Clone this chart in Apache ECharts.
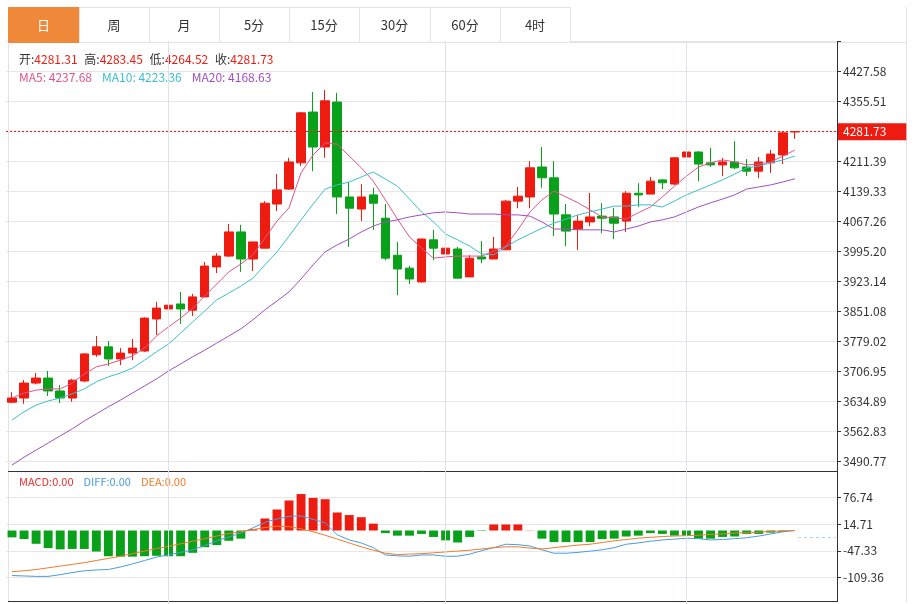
<!DOCTYPE html>
<html><head><meta charset="utf-8">
<script src="https://cdn.jsdelivr.net/npm/echarts@6/dist/echarts.min.js"></script>
<style>html,body{margin:0;padding:0;background:#fff}#c{width:913px;height:604px}</style>
</head><body><div id="c"></div>
<script>
const tabs=['日','周','月','5分','15分','30分','60分','4时'];
const opens=[3632,3642,3678,3690,3659,3642,3683,3746,3765,3736,3750,3755,3832,3856,3868,3853,3885,3957,3983,4041,3976,4002,4108,4144,4207,4329,4245,4353,4125,4096,4130,4074,3985,3954,3921,4022,3988,4000,3933,3981,3976,3998,4115,4125,4197,4171,4082,4048,4065,4079,4077,4067,4134,4132,4166,4156,4221,4233,4207,4202,4209,4197,4187,4207,4226,4281.31];
const closes=[3642,3678,3690,3659,3642,3685,3748,3765,3736,3750,3762,3834,3858,3865,3856,3885,3959,3983,4041,3976,4017,4110,4142,4209,4327,4245,4356,4125,4098,4125,4110,3978,3952,3928,4024,4002,4002,3930,3978,3976,4000,4115,4127,4195,4171,4084,4043,4067,4077,4074,4062,4134,4130,4163,4159,4219,4233,4204,4202,4209,4195,4187,4209,4228,4279,4281.73];
const highs=[3656,3685,3702,3707,3673,3688,3750,3791,3779,3762,3784,3836,3873,3897,3897,3892,3969,3990,4060,4058,4017,4115,4180,4219,4329,4377,4382,4375,4161,4156,4147,4108,4017,3959,4024,4046,4029,4005,3985,4019,4029,4118,4149,4211,4245,4211,4108,4082,4135,4110,4098,4139,4158,4173,4168,4221,4267,4235,4243,4219,4259,4216,4221,4238,4283,4283.45];
const lows=[3630,3628,3675,3647,3630,3633,3680,3741,3719,3721,3733,3753,3793,3853,3820,3839,3885,3942,3981,3945,3947,4002,4091,4142,4199,4187,4219,4084,4005,4067,4046,3973,3889,3916,3919,3973,3964,3929,3933,3966,3976,3998,4098,4098,4147,4031,4007,3998,4055,4038,4024,4041,4101,4132,4144,4154,4207,4163,4197,4175,4192,4175,4170,4183,4204,4264.52];
const ma5=[3642,3654,3661,3664,3664,3678,3700,3717,3724,3733,3743,3762,3791,3813,3834,3858,3887,3916,3945,3964,3986,4026,4067,4099,4183,4226,4255,4252,4223,4195,4163,4118,4072,4029,4002,3978,3981,3983,3983,3983,3995,4007,4046,4089,4118,4139,4125,4111,4094,4077,4075,4072,4087,4101,4125,4151,4175,4197,4207,4214,4209,4202,4204,4209,4223,4237.68];
const ma10=[3589,3609,3625,3635,3642,3652,3664,3681,3693,3702,3714,3733,3753,3772,3798,3825,3851,3878,3894,3911,3930,3962,3993,4031,4070,4108,4144,4154,4161,4173,4185,4168,4151,4120,4089,4065,4036,4022,4007,3988,3986,4005,4022,4036,4050,4062,4072,4082,4089,4096,4103,4103,4106,4106,4101,4115,4130,4142,4154,4166,4180,4195,4199,4207,4214,4223.36];
const ma20=[3481,3500,3517,3534,3551,3568,3587,3604,3621,3637,3654,3671,3688,3707,3724,3741,3757,3774,3791,3808,3830,3854,3875,3897,3928,3962,3993,4010,4024,4041,4055,4065,4070,4077,4082,4087,4089,4087,4084,4084,4084,4082,4082,4079,4065,4048,4048,4046,4046,4046,4041,4048,4055,4065,4070,4077,4089,4101,4111,4120,4130,4144,4149,4154,4161,4168.63];
const macd=[-16,-20,-31,-41,-44,-43,-43,-49,-60,-61,-61,-60,-59,-60,-60,-52,-39,-34,-24,-19,3,28,49,70,85,76,73,42,36,31,16,-6,-12,-12,-8,-15,-23,-28,-15,-1,14,14,14,0.5,-19,-27,-27,-27,-27,-20,-19,-14,-12,-6,-8,-12,-12,-19,-19,-15,-14,-8,-8,-5,-3,0];
const diff=[-105,-106,-107,-107,-103,-98,-94,-92,-91,-85,-78,-70,-62,-57,-51,-45,-35,-24,-15,-6,6,19,27,33,34,26,18,-10,-22,-29,-40,-57,-59,-60,-57,-57,-60,-60,-55,-47,-40,-32,-33,-36,-45,-53,-53,-51,-48,-45,-40,-32,-29,-25,-22,-20,-18,-19,-22,-21,-19,-17,-13,-8,-3,0];
const dea=[-96,-94,-91,-87,-83,-79,-75,-70,-65,-60,-54,-48,-42,-37,-31,-25,-19,-13,-7,-3,2,7,10,9,4,-3,-11,-20,-29,-38,-46,-53,-56,-55,-54,-52,-50,-48,-46,-43,-40,-38,-38,-41,-43,-40,-37,-34,-32,-28,-24,-21,-18,-16,-14,-13,-12,-11,-9,-8,-6,-5,-4,-2,-1,0];
const priceTicks=[4427.58,4355.51,4283.45,4211.39,4139.33,4067.26,3995.20,3923.14,3851.08,3779.02,3706.95,3634.89,3562.83,3490.77];
const macdTicks=[76.74,14.71,-47.33,-109.36];
const vLines=[13,36,56];
const lastPrice=4281.73;

const RED='#ee1b10',GREEN='#0aa11a';
const N=69;
const cats=[];for(let i=0;i<N;i++)cats.push(String(i));
const pad=a=>a.concat(new Array(N-a.length).fill('-'));
const kdata=opens.map((o,i)=>[o,closes[i],lows[i],highs[i]]);
const pInt=(priceTicks[0]-priceTicks[priceTicks.length-1])/(priceTicks.length-1);
const pMin=priceTicks[priceTicks.length-1]-pInt, pMax=priceTicks[0]+pInt;
const mInt=(macdTicks[0]-macdTicks[macdTicks.length-1])/(macdTicks.length-1);
const mMin=macdTicks[macdTicks.length-1]-mInt, mMax=macdTicks[0]+mInt;
function nearest(arr,v,step){let b=null,d=1e9;arr.forEach(t=>{if(Math.abs(t-v)<d){d=Math.abs(t-v);b=t;}});return d<step/4?b:null;}
const font='"Noto Sans CJK SC","Noto Sans",sans-serif';
const vMark=vLines.map(i=>({xAxis:i}));

const graphic=[];
const tabX=[8,79,149,219,289,359,430,500,570];
tabs.forEach((t,i)=>{
  graphic.push({type:'rect',shape:{x:tabX[i]+0.5,y:7.5,width:tabX[i+1]-tabX[i],height:35},style:{fill:i===0?'#f0883a':'#fff',stroke:i===0?'#f0883a':'#e3e3e3'},z:1});
  graphic.push({type:'text',x:(tabX[i]+tabX[i+1])/2,y:25,style:{text:t,fill:i===0?'#fff':'#333',font:'13px '+font,align:'center',verticalAlign:'middle'},z:2});
});
graphic.push({type:'line',shape:{x1:570,y1:42.5,x2:907,y2:42.5},style:{stroke:'#e3e3e3'}});
graphic.push({type:'line',shape:{x1:8.5,y1:42,x2:8.5,y2:602},style:{stroke:'#e3e3e3'}});
graphic.push({type:'line',shape:{x1:906.5,y1:7,x2:906.5,y2:602},style:{stroke:'#e3e3e3'}});
graphic.push({type:'line',shape:{x1:8,y1:471.5,x2:837,y2:471.5},style:{stroke:'#333'}});
graphic.push({type:'line',shape:{x1:8,y1:601.5,x2:837,y2:601.5},style:{stroke:'#333'}});
graphic.push({type:'line',shape:{x1:837.5,y1:42,x2:837.5,y2:602},style:{stroke:'#333'}});
graphic.push({type:'line',shape:{x1:798,y1:537.5,x2:836,y2:537.5},style:{stroke:'#9fd8e8',lineDash:[3,3]}});
graphic.push({type:'text',x:19,y:59,style:{rich:{l:{fill:'#333',font:'12px '+font},v:{fill:RED,font:'12px '+font}},
  text:'{l|开:}{v|'+opens[65]+'}  {l|高:}{v|'+highs[65]+'}  {l|低:}{v|'+lows[65]+'}  {l|收:}{v|'+closes[65]+'}',verticalAlign:'middle'}});
graphic.push({type:'text',x:19,y:77,style:{rich:{a:{fill:'#e0558a',font:'12px '+font},b:{fill:'#3bbfcb',font:'12px '+font},c:{fill:'#a24fbf',font:'12px '+font}},
  text:'{a|MA5: '+ma5[65]+'}   {b|MA10: '+ma10[65]+'}   {c|MA20: '+ma20[65]+'}',verticalAlign:'middle'}});
graphic.push({type:'text',x:19,y:482,style:{rich:{a:{fill:'#e8322a',font:'11px '+font},b:{fill:'#4a9be0',font:'11px '+font},c:{fill:'#f07b2a',font:'11px '+font}},
  text:'{a|MACD:0.00}   {b|DIFF:0.00}   {c|DEA:0.00}',verticalAlign:'middle'}});

const chart=echarts.init(document.getElementById('c'));
chart.setOption({
  animation:false,
  graphic,
  grid:[{left:6,right:76,top:41,height:450},{left:6,right:76,top:471,height:151}],
  xAxis:[0,1].map(g=>({type:'category',gridIndex:g,data:cats,boundaryGap:true,axisLine:{show:false},axisTick:{show:false},axisLabel:{show:false},splitLine:{show:false}})),
  yAxis:[
    {type:'value',gridIndex:0,position:'right',min:pMin,max:pMax,interval:pInt,
     axisLine:{show:false},axisTick:{show:true,length:4,lineStyle:{color:'#333'}},
     axisLabel:{showMinLabel:false,showMaxLabel:false,color:'#333',fontSize:12,fontFamily:font,margin:6,
       formatter:v=>{const t=nearest(priceTicks,v,pInt);return (t===null||t===4283.45)?'':t.toFixed(2);}},
     splitLine:{show:true,showMinLine:false,showMaxLine:false,lineStyle:{color:'#e6e6e6'}}},
    {type:'value',gridIndex:1,position:'right',min:mMin,max:mMax,interval:mInt,
     axisLine:{show:false},axisTick:{show:true,length:4,lineStyle:{color:'#333'}},
     axisLabel:{showMinLabel:false,showMaxLabel:false,color:'#333',fontSize:12,fontFamily:font,margin:6,
       formatter:v=>{const t=nearest(macdTicks,v,mInt);return t===null?'':t.toFixed(2);}},
     splitLine:{show:true,showMinLine:false,showMaxLine:false,lineStyle:{color:'#e6e6e6'}}}
  ],
  series:[
    {type:'candlestick',xAxisIndex:0,yAxisIndex:0,data:kdata,barWidth:'74%',
     itemStyle:{color:RED,color0:GREEN,borderColor:RED,borderColor0:GREEN,borderWidth:1},
     markLine:{silent:true,symbol:'none',animation:false,data:[
        ...vMark.map(m=>Object.assign({lineStyle:{color:'#dde3ea',type:'solid',width:1},label:{show:false}},m)),
        {yAxis:lastPrice,lineStyle:{color:'#ee1b10',type:[2,2],width:1},
         label:{show:true,position:'end',distance:1,formatter:String(lastPrice),color:'#fff',backgroundColor:'#ee1b10',padding:[3,20,2,5],fontSize:12,fontFamily:font}}]}},
    {type:'line',data:pad(ma5),symbol:'none',lineStyle:{width:1,color:'#e0558a'},z:3},
    {type:'line',data:pad(ma10),symbol:'none',lineStyle:{width:1,color:'#3bbfcb'},z:3},
    {type:'line',data:pad(ma20),symbol:'none',lineStyle:{width:1,color:'#a24fbf'},z:3},
    {type:'bar',xAxisIndex:1,yAxisIndex:1,data:pad(macd).map(v=>v==='-'?v:{value:v,itemStyle:{color:v>=0?RED:GREEN}}),barWidth:'74%',
     markLine:{silent:true,symbol:'none',data:vMark,lineStyle:{color:'#dde3ea',type:'solid',width:1},label:{show:false}}},
    {type:'line',xAxisIndex:1,yAxisIndex:1,data:pad(diff),symbol:'none',lineStyle:{width:1,color:'#4a9be0'},z:3},
    {type:'line',xAxisIndex:1,yAxisIndex:1,data:pad(dea),symbol:'none',lineStyle:{width:1,color:'#f07b2a'},z:3}
  ]
});
</script></body></html>
